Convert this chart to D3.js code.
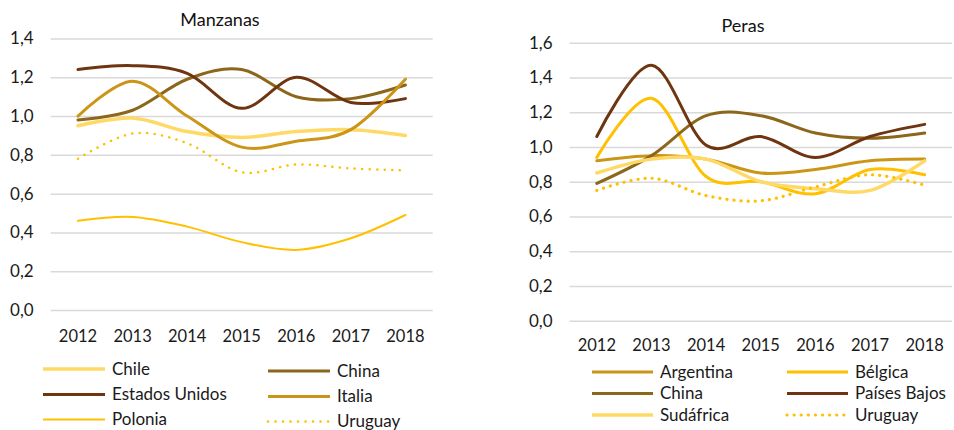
<!DOCTYPE html>
<html><head><meta charset="utf-8">
<script src="https://cdn.jsdelivr.net/npm/d3@7"></script>
<style>body{margin:0;background:#fff}svg{display:block;font-family:Lato,"Open Sans",sans-serif}</style>
</head><body><svg id="c" width="954" height="430"></svg>
<script>
const years = ["2012","2013","2014","2015","2016","2017","2018"];

// Manzanas
const manzChile   = [0.95,0.99,0.92,0.89,0.92,0.93,0.90];
const manzChina   = [0.98,1.03,1.19,1.24,1.10,1.09,1.16];
const manzEEUU    = [1.24,1.26,1.22,1.04,1.20,1.07,1.09];
const manzItalia  = [1.00,1.18,1.00,0.84,0.87,0.93,1.19];
const manzPolonia = [0.46,0.48,0.43,0.35,0.31,0.37,0.49];
const manzUruguay = [0.78,0.91,0.86,0.71,0.75,0.73,0.72];
const manzTicks   = [0,0.2,0.4,0.6,0.8,1.0,1.2,1.4];

// Peras
const perArgentina = [0.92,0.95,0.93,0.85,0.87,0.92,0.93];
const perBelgica   = [0.94,1.28,0.83,0.80,0.73,0.87,0.84];
const perChina     = [0.79,0.95,1.18,1.18,1.08,1.05,1.08];
const perPaisesB   = [1.06,1.47,1.01,1.06,0.94,1.06,1.13];
const perSudafrica = [0.85,0.93,0.93,0.80,0.76,0.75,0.92];
const perUruguay   = [0.75,0.82,0.72,0.69,0.77,0.84,0.78];
const perTicks     = [0,0.2,0.4,0.6,0.8,1.0,1.2,1.4,1.6];

const C = {light:"#FFD966", olive:"#8C661A", dark:"#6E3510", gold:"#CB9618", amber:"#FFC000"};

const manzSeries = [
  {name:"Chile", values:manzChile, color:C.light, w:3.5},
  {name:"China", values:manzChina, color:C.olive, w:3},
  {name:"Estados Unidos", values:manzEEUU, color:C.dark, w:3},
  {name:"Italia", values:manzItalia, color:C.gold, w:3},
  {name:"Polonia", values:manzPolonia, color:C.amber, w:2},
  {name:"Uruguay", values:manzUruguay, color:C.amber, w:2.5, dot:"0.1,7.4"}
];
const perSeries = [
  {name:"Argentina", values:perArgentina, color:C.gold, w:3},
  {name:"Bélgica", values:perBelgica, color:C.amber, w:3},
  {name:"China", values:perChina, color:C.olive, w:3},
  {name:"Países Bajos", values:perPaisesB, color:C.dark, w:3},
  {name:"Sudáfrica", values:perSudafrica, color:C.light, w:3.5},
  {name:"Uruguay", values:perUruguay, color:C.amber, w:3.2, dot:"0.1,7"}
];

const svg = d3.select("#c");
const fmt = d => d3.format(".1f")(d).replace(".", ",");
const TXT = "#1a1a1a";

function chart(cfg){
  const g = svg.append("g");
  const x = d3.scaleBand().domain(years).range([cfg.x0, cfg.x1]);
  const y = d3.scaleLinear().domain([0, cfg.ticks[cfg.ticks.length-1]]).range([cfg.y0, cfg.y1]);

  const ya = g.append("g").attr("transform",`translate(${cfg.x0},0)`)
    .call(d3.axisLeft(y).tickValues(cfg.ticks).tickSize(-(cfg.x1-cfg.x0)).tickPadding(17).tickFormat(fmt));
  ya.select(".domain").remove();
  ya.selectAll("line").attr("stroke","#d9d9d9").attr("stroke-width",1.5);
  ya.selectAll("text").attr("font-size",17).attr("fill",TXT).attr("font-family","Lato");

  const xa = g.append("g").attr("transform",`translate(0,${cfg.yearY})`)
    .call(d3.axisBottom(x).tickSize(0).tickPadding(0));
  xa.select(".domain").remove();
  xa.selectAll("text").attr("font-size",16.5).attr("fill",TXT).attr("dy","0.35em").attr("font-family","Lato");

  g.append("text").attr("x",cfg.titleX).attr("y",cfg.titleY).attr("text-anchor","middle")
    .attr("dy","0.35em").attr("font-size",18).attr("fill","#111").text(cfg.title);

  const line = d3.line().x((d,i)=>x(years[i])+x.bandwidth()/2).y(d=>y(d)).curve(d3.curveCatmullRom.alpha(0));
  cfg.series.forEach(s=>{
    g.append("path").attr("d",line(s.values)).attr("fill","none").attr("stroke",s.color)
      .attr("stroke-width",s.w).attr("stroke-linecap","round").attr("stroke-linejoin","round")
      .attr("stroke-dasharray",s.dot||null);
  });

  cfg.series.forEach((s,i)=>{
    const col = i%2, row = Math.floor(i/2);
    const lx = cfg.leg.cols[col], ly = cfg.leg.rows[row] + (col? cfg.leg.dy:0);
    g.append("line").attr("x1",lx).attr("x2",lx+cfg.leg.len).attr("y1",ly).attr("y2",ly)
      .attr("stroke",s.color).attr("stroke-width",s.w).attr("stroke-linecap",s.dot?"round":"butt")
      .attr("stroke-dasharray",s.dot||null);
    g.append("text").attr("x",lx+cfg.leg.len+7).attr("y",ly).attr("dy","0.35em")
      .attr("font-size",17).attr("fill",TXT).text(s.name);
  });
}

chart({title:"Manzanas", titleX:220, titleY:20, x0:50.7, x1:432.7, y0:310, y1:38.5, ticks:manzTicks,
  yearY:336.5, series:manzSeries,
  leg:{cols:[43,268], rows:[369,394.5,419.5], len:62, dy:2}});
chart({title:"Peras", titleX:743, titleY:26, x0:569.5, x1:952, y0:320.7, y1:42.7, ticks:perTicks,
  yearY:345.5, series:perSeries,
  leg:{cols:[592,787], rows:[372,393.5,415], len:61, dy:0}});
</script></body></html>
